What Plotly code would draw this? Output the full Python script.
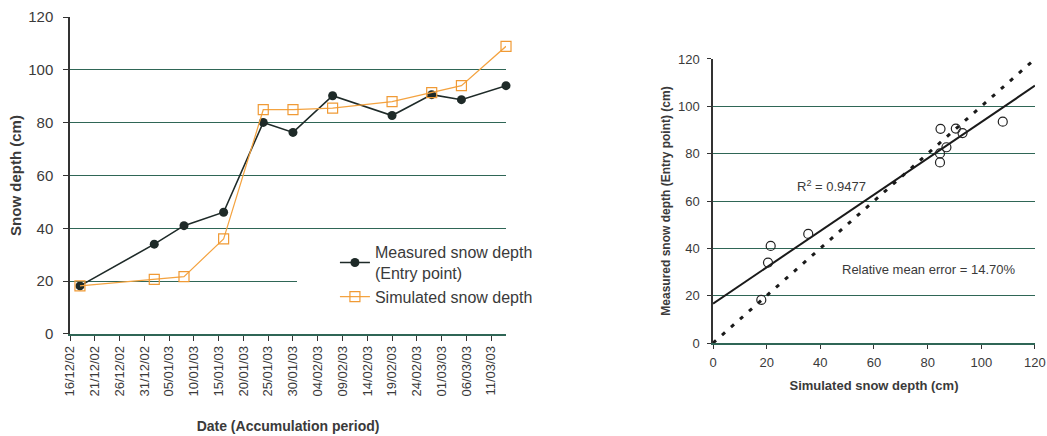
import numpy as np
import plotly.graph_objects as go

# ---- data ----
dates = ["2002-12-18", "2003-01-02", "2003-01-08", "2003-01-16", "2003-01-24",
         "2003-01-30", "2003-02-07", "2003-02-19", "2003-02-27", "2003-03-05",
         "2003-03-14"]
measured = [18.2, 34.0, 41.0, 46.1, 80.1, 76.3, 90.2, 82.7, 90.6, 88.7, 94.0]
simulated = [18.2, 20.7, 21.7, 36.0, 84.9, 84.9, 85.5, 88.0, 91.4, 94.0, 108.9]
scatter_sim = [18.0, 20.5, 21.5, 35.5, 84.6, 84.6, 84.8, 87.0, 90.5, 93.0, 108.0]
scatter_meas = [18.2, 34.0, 41.0, 46.1, 80.1, 76.3, 90.5, 82.7, 90.6, 88.7, 93.5]
one_to_one = [0, 120]
r2_label = "R<sup>2</sup> = 0.9477"
rme_label = "Relative mean error = 14.70%"

FONT = "Liberation Sans, Arial, sans-serif"
TXT = "#3a3a3a"
GRID = "#2f6656"
AX = "#333333"

fig = go.Figure()

fig.add_trace(go.Scatter(
    x=dates, y=measured, mode="lines+markers",
    name="Measured snow depth<br>(Entry point)",
    line=dict(color="#1e2a28", width=1.6),
    marker=dict(symbol="circle", size=9, color="#1e2a28"),
    cliponaxis=False, xaxis="x", yaxis="y"))
fig.add_trace(go.Scatter(
    x=dates, y=simulated, mode="lines+markers",
    name="Simulated snow depth",
    line=dict(color="#f4a340", width=1.2),
    marker=dict(symbol="square-open", size=10, color="#f09a35", line=dict(width=1.2)),
    cliponaxis=False, xaxis="x", yaxis="y"))

# right panel
coef = np.polyfit(scatter_sim, scatter_meas, 1)
xs_fit = np.array([0, 120])
fig.add_trace(go.Scatter(
    x=one_to_one, y=one_to_one, mode="lines", showlegend=False,
    line=dict(color="#1a1a1a", width=3, dash="4px,8px"),
    xaxis="x2", yaxis="y2", cliponaxis=False))
fig.add_trace(go.Scatter(
    x=xs_fit, y=np.polyval(coef, xs_fit), mode="lines", showlegend=False,
    line=dict(color="#1a1a1a", width=2),
    xaxis="x2", yaxis="y2", cliponaxis=False))
fig.add_trace(go.Scatter(
    x=scatter_sim, y=scatter_meas, mode="markers", showlegend=False,
    marker=dict(symbol="circle-open", size=9, color="#222", line=dict(width=1.2)),
    xaxis="x2", yaxis="y2", cliponaxis=False))

fig.update_layout(
    width=1047, height=436,
    margin=dict(l=0, r=0, t=0, b=0),
    paper_bgcolor="white", plot_bgcolor="white",
    font=dict(family=FONT, color=TXT),
    xaxis=dict(
        domain=[0.0669, 0.4833], anchor="y", type="date", automargin=False,
        range=["2002-12-16", "2003-03-14"],
        tick0="2002-12-16", dtick=5 * 86400000, tickformat="%d/%m/%y",
        tickangle=-90, tickfont=dict(size=13, color=TXT),
        ticks="outside", ticklen=5, tickcolor=AX,
        showgrid=False, showline=True, linecolor=GRID, linewidth=1.5,
        title=dict(text="<b>Date (Accumulation period)</b>", font=dict(size=14, color=TXT), standoff=26),
    ),
    yaxis=dict(
        domain=[0.234, 0.961], anchor="x", range=[0, 120], dtick=20, automargin=False,
        tickfont=dict(size=15, color=TXT), ticklabelstandoff=7,
        ticks="outside", ticklen=5, tickcolor=AX,
        showgrid=True, gridcolor=GRID, gridwidth=1.3, zeroline=False,
        showline=True, linecolor=AX, linewidth=1.5,
        title=dict(text="<b>Snow depth (cm)</b>", font=dict(size=15, color=TXT), standoff=3),
    ),
    xaxis2=dict(
        domain=[0.681, 0.9885], anchor="y2", range=[0, 120], dtick=20, automargin=False,
        tickfont=dict(size=13, color=TXT), ticklabelstandoff=3,
        ticks="outside", ticklen=4, tickcolor=AX,
        showgrid=False, showline=True, linecolor=GRID, linewidth=1.5, zeroline=False,
        title=dict(text="<b>Simulated snow depth (cm)</b>", font=dict(size=13, color=TXT), standoff=12),
    ),
    yaxis2=dict(
        domain=[0.2133, 0.8647], anchor="x2", range=[0, 120], dtick=20, automargin=False,
        tickfont=dict(size=13, color=TXT), ticklabelstandoff=5,
        ticks="outside", ticklen=4, tickcolor=AX,
        showgrid=True, gridcolor=GRID, gridwidth=1.3, zeroline=False,
        showline=True, linecolor=AX, linewidth=1.5,
        title=dict(text="<b>Measured snow depth (Entry point) (cm)</b>", font=dict(size=12, color=TXT), standoff=5),
    ),
    legend=dict(
        x=0.2836, y=0.4606, xanchor="left", yanchor="top",
        bgcolor="white", font=dict(size=16, color=TXT),
        indentation=38, tracegroupgap=3, itemwidth=30,
    ),
    annotations=[
        dict(text=r2_label, x=44, y=66.5, xref="x2", yref="y2", showarrow=False,
             font=dict(size=13, color=TXT)),
        dict(text=rme_label, x=80.5, y=31.2, xref="x2", yref="y2", showarrow=False,
             font=dict(size=13, color=TXT)),
    ],
)

fig.write_html("out.html", config={"displayModeBar": False},
               post_script="document.body.style.margin='0';document.body.style.overflow='hidden';")
